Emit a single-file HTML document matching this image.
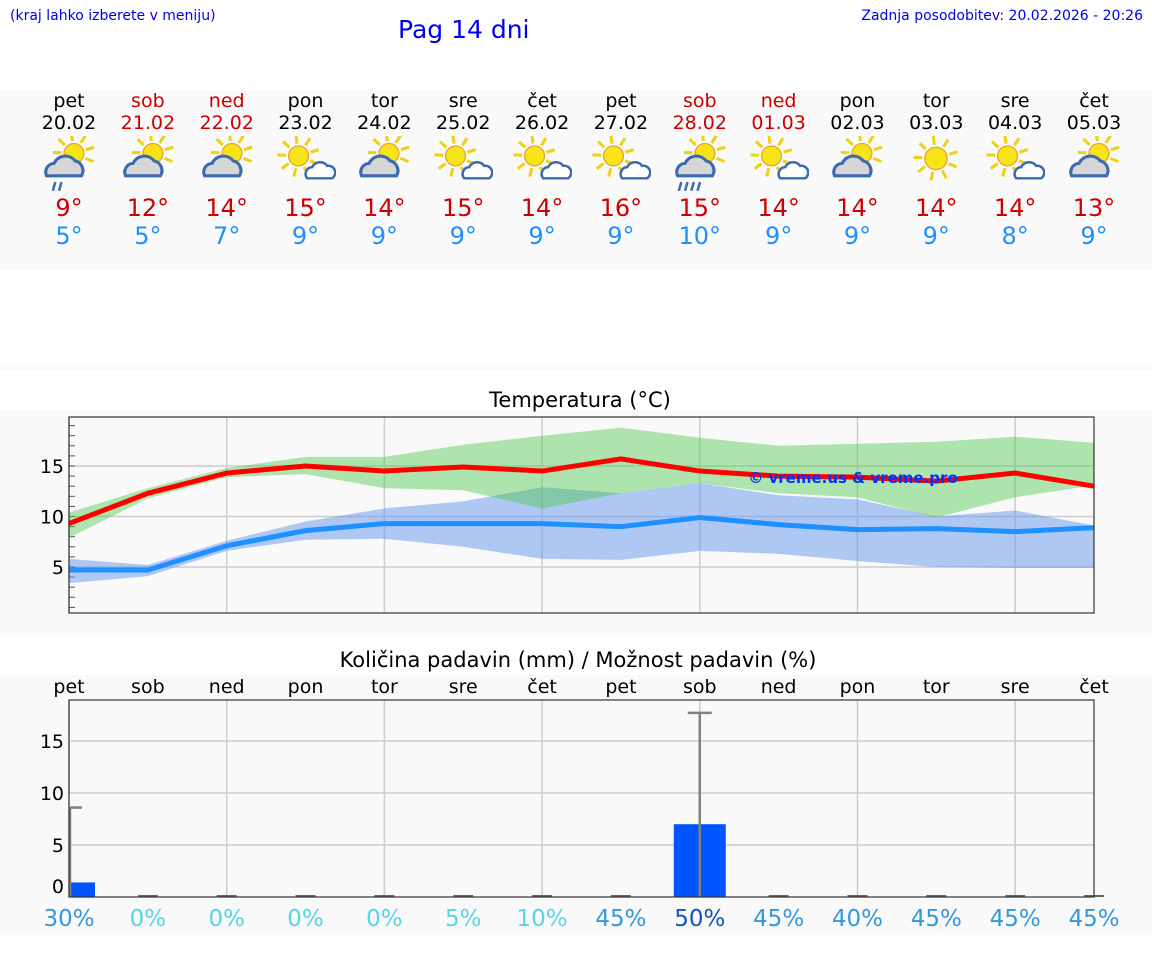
<!DOCTYPE html>
<html><head><meta charset="utf-8">
<style>
body{margin:0;width:1152px;height:975px;background:#fff;font-family:"DejaVu Sans","Liberation Sans",sans-serif;position:relative;overflow:hidden}
.abs{position:absolute}
.band{position:absolute;left:0;width:1152px;background:#f9f9f9}
.c{position:absolute;transform:translateX(-50%);text-align:center;white-space:nowrap}
</style></head><body>
<div class="abs" style="left:10px;top:8px;font-size:14px;color:#0000ee">(kraj lahko izberete v meniju)</div>
<div class="abs" style="left:398px;top:15px;font-size:25px;color:#0000ee">Pag 14 dni</div>
<div class="abs" style="right:9px;top:8px;font-size:14px;color:#0000ee">Zadnja posodobitev: 20.02.2026 - 20:26</div>
<div class="band" style="top:90px;height:180px"></div>
<div class="band" style="top:365px;height:5px"></div>
<div class="band" style="top:410px;height:225px"></div>
<div class="band" style="top:675px;height:260px"></div>
<div id="days"></div>
<div class="c" style="left:580px;top:388px;font-size:21px">Temperatura (°C)</div>
<div class="c" style="left:578px;top:648px;font-size:21px">Količina padavin (mm) / Možnost padavin (%)</div>
<svg id="chart" class="abs" style="left:0;top:0" width="1152" height="975"></svg>
<script>
const days=["pet","sob","ned","pon","tor","sre","čet","pet","sob","ned","pon","tor","sre","čet"];
const dates=["20.02","21.02","22.02","23.02","24.02","25.02","26.02","27.02","28.02","01.03","02.03","03.03","04.03","05.03"];
const hiT=[9,12,14,15,14,15,14,16,15,14,14,14,14,13];
const loT=[5,5,7,9,9,9,9,9,10,9,9,9,8,9];
const icons=[3,1,1,2,1,2,2,2,4,2,1,0,2,1];
const maxLine=[9.3,12.3,14.3,15,14.5,14.9,14.5,15.7,14.5,14,13.9,13.5,14.3,13.0];
const maxUp=[10.4,12.8,14.8,15.9,15.9,17.1,18.0,18.8,17.8,17.0,17.2,17.4,17.9,17.3];
const maxLo=[7.9,11.8,13.9,14.2,12.8,12.6,10.8,12.3,13.3,12.3,11.9,9.9,11.9,13.1];
const minLine=[4.7,4.7,7.1,8.6,9.3,9.3,9.3,9.0,9.9,9.2,8.7,8.8,8.5,8.9];
const minUp=[5.8,5.2,7.6,9.5,10.8,11.5,12.9,12.3,13.3,12.1,11.7,10.0,10.6,9.1];
const minLo=[3.4,4.1,6.6,7.7,7.8,7.0,5.8,5.7,6.6,6.3,5.6,5.0,4.9,4.9];
const precip=[1.4,0,0,0,0,0,0,0,7.0,0,0,0,0,0];
const precipMax=[8.6,0,0,0,0,0,0,0,17.7,0,0,0,0,0];
const chance=[30,0,0,0,0,5,10,45,50,45,40,45,45,45];
const tTicks=[5,10,15];
const pTicks=[0,5,10,15];

const X0=69,X1=1094,n=14;
const x=i=>X0+i*(X1-X0)/(n-1);
const yT=v=>567-(v-5)*10.1;
const yP=v=>897-v*10.4;
const NS="http://www.w3.org/2000/svg";
const svg=document.getElementById('chart');
function mk(t,a,p){const e=document.createElementNS(NS,t);for(const k in a)e.setAttribute(k,a[k]);(p||svg).appendChild(e);return e;}

const dd=document.getElementById('days');
function iconSvg(t){
  let s='<svg width="60" height="56" viewBox="2 4 48 45">';
  const sun=(cx,cy,r)=>{let o='';for(let k=0;k<9;k++){const a=k*Math.PI*2/9-0.3;o+=`<line x1="${cx+Math.cos(a)*(r+2)}" y1="${cy+Math.sin(a)*(r+2)}" x2="${cx+Math.cos(a)*(r+9)}" y2="${cy+Math.sin(a)*(r+9)}" stroke="#ecd31a" stroke-width="2.5"/>`;}return o+`<circle cx="${cx}" cy="${cy}" r="${r}" fill="#f7e418" stroke="#e8a030" stroke-width="1"/>`;};
  if(t==0){s+=sun(26,22,9);}
  else if(t==2){s+=sun(20,20,8);s+='<path d="M27 38 a5.5 5.5 0 0 1 4-9 a7 7 0 0 1 12-1 a5.5 5.5 0 0 1 4 10 z" fill="#fff" stroke="#3a6ab0" stroke-width="2"/>';}
  else{s+=sun(30,18,8);s+='<path d="M8 36 a7 7 0 0 1 6-10 a10 10 0 0 1 17-2 a8 8 0 0 1 5 12 z" fill="#d6d6d6" stroke="#3a6ab0" stroke-width="2.5"/>';
   if(t==3)s+='<line x1="13" y1="48" x2="15" y2="41" stroke="#3a6ab0" stroke-width="2"/><line x1="18" y1="48" x2="20" y2="41" stroke="#3a6ab0" stroke-width="2"/>';
   if(t==4)for(let k=0;k<4;k++)s+=`<line x1="${9+k*5}" y1="48" x2="${11+k*5}" y2="41" stroke="#3a6ab0" stroke-width="2"/>`;}
  return s+'</svg>';
}
for(let i=0;i<n;i++){
  const we=(i==1||i==2||i==8||i==9);
  const col=we?'#cc0000':'#000';
  const d=document.createElement('div');d.className='c';d.style.left=x(i)+'px';d.style.top='90px';
  
  
  d.innerHTML=`<div style="font-size:19px;color:${col};line-height:22px">${days[i]}</div><div style="font-size:19px;color:${col};line-height:22px">${dates[i]}</div><div style="height:58px;margin-top:2px">${iconSvg(icons[i])}</div><div style="font-size:24px;color:#cc0000;line-height:28px">${hiT[i]}°</div><div style="font-size:24px;color:#1e90ff;line-height:28px">${loT[i]}°</div>`;
  dd.appendChild(d);
}

let g=mk('g',{});


for(let i=0;i<n;i+=2){const l=mk('line',{x1:x(i),x2:x(i),y1:417,y2:613,stroke:'#ccc','stroke-width':1.5},g);}
tTicks.forEach(v=>{const l=mk('line',{x1:69,x2:1094,y1:yT(v),y2:yT(v),stroke:'#ccc','stroke-width':1.5},g);
 const t=mk('text',{x:64,y:yT(v)+7,'text-anchor':'end','font-size':19,fill:'#000'},g);t.textContent=v;});
for(let v=1;v<=19;v++){mk('line',{x1:69,x2:75,y1:yT(v),y2:yT(v),stroke:'#555'},g);}
function band(up,lo,fill,name){let d='';for(let i=0;i<n;i++)d+=(i?'L':'M')+x(i)+' '+yT(up[i]);for(let i=n-1;i>=0;i--)d+='L'+x(i)+' '+yT(lo[i]);const p=mk('path',{d:d+'Z',fill:fill},g);}
band(minUp,minLo,'rgba(100,149,237,0.5)','min-temp-range');
band(maxUp,maxLo,'rgba(80,200,80,0.45)','max-temp-range');
function line(vals,col,name){const p=mk('polyline',{points:vals.map((v,i)=>x(i)+','+yT(v)).join(' '),fill:'none',stroke:col,'stroke-width':5},g);}
line(minLine,'#1e90ff','min-temp-line');
line(maxLine,'#ff0000','max-temp-line');
mk('rect',{x:69,y:417,width:1025,height:196,fill:'none',stroke:'#333','stroke-width':1.2},g);
let wm=mk('text',{x:853,y:483,'text-anchor':'middle','font-size':15,'font-weight':'bold',fill:'#0033ff'},g);wm.textContent='© vreme.us & vreme.pro';



let h=mk('g',{});


for(let i=0;i<n;i+=2){mk('line',{x1:x(i),x2:x(i),y1:700,y2:897,stroke:'#ccc','stroke-width':1.5},h);}
pTicks.forEach(v=>{if(v>0)mk('line',{x1:69,x2:1094,y1:yP(v),y2:yP(v),stroke:'#ccc','stroke-width':1.5},h);
 const t=mk('text',{x:64,y:(v==0?yP(v)-4:yP(v)+7),'text-anchor':'end','font-size':19,fill:'#000'},h);t.textContent=v;});
for(let i=0;i<n;i++){
  const t=mk('text',{x:x(i),y:693,'text-anchor':'middle','font-size':19,fill:'#000'},h);t.textContent=days[i];
  
  
  const bw=52;const bx=Math.max(69,x(i)-bw/2),bx2=Math.min(1094,x(i)+bw/2);
  if(precip[i]>0){const r=mk('rect',{x:bx,y:yP(precip[i]),width:bx2-bx,height:897-yP(precip[i]),fill:'#0055ff'},h);}
  const ex=Math.max(70,x(i));
  if(precipMax[i]>0){mk('line',{x1:ex,x2:ex,y1:yP(precipMax[i]),y2:897,stroke:'#808080','stroke-width':2.5},h);mk('line',{x1:ex-(i?12:0),x2:ex+12,y1:yP(precipMax[i]),y2:yP(precipMax[i]),stroke:'#808080','stroke-width':2.5},h);}
  else mk('line',{x1:ex-10,x2:ex+10,y1:896,y2:896,stroke:'#666','stroke-width':2},h);
  const c=chance[i];const col=c>=50?'#1155bb':(c>=30?'#3399dd':'#55d5e8');
  const p=mk('text',{x:x(i),y:926,'text-anchor':'middle','font-size':23,fill:col},h);p.textContent=c+'%';
  
  
}
mk('rect',{x:69,y:700,width:1025,height:197,fill:'none',stroke:'#333','stroke-width':1.2},h);
</script>
</body></html>
